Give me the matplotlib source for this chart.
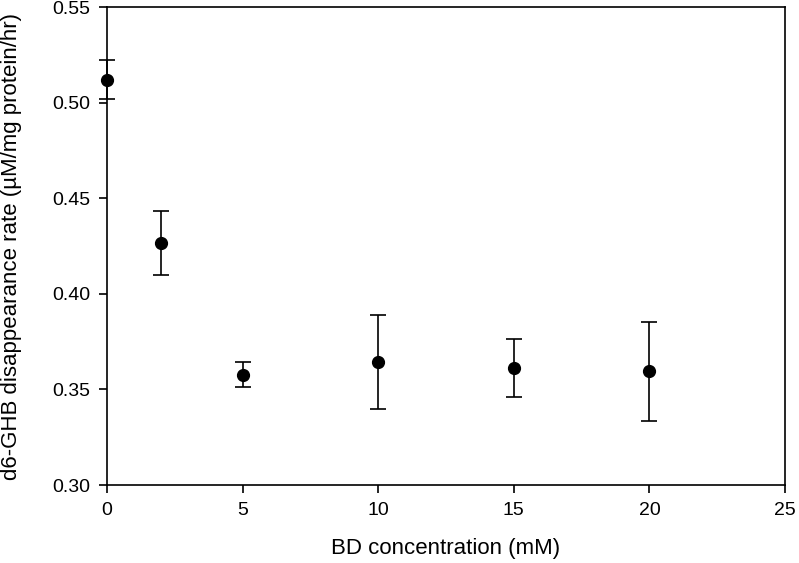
import matplotlib
matplotlib.use("Agg")
import matplotlib.pyplot as plt

# BD concentration (mM) vs d6-GHB disappearance rate
conc = [0, 2, 5, 10, 15, 20]
rate = [0.512, 0.4265, 0.3578, 0.3642, 0.3613, 0.3595]
err = [0.0103, 0.0168, 0.0067, 0.0246, 0.0151, 0.0259]

xticks = [0, 5, 10, 15, 20, 25]
yticks = [0.30, 0.35, 0.40, 0.45, 0.50, 0.55]

plt.rcParams["font.family"] = ["Liberation Sans", "DejaVu Sans"]

fig = plt.figure(figsize=(7.99, 5.63), dpi=100)
ax = fig.add_axes([0.134, 0.1385, 0.8485, 0.849])

ax.errorbar(conc, rate, yerr=err, fmt="o", color="black", ms=8.5,
            elinewidth=1.2, capsize=5.5, capthick=1.2, clip_on=False, zorder=3)

ax.set_xlim(0, 25)
ax.set_ylim(0.30, 0.55)
ax.set_xticks(xticks)
ax.set_yticks(yticks)
ax.set_xticklabels([str(t) for t in xticks])
ax.set_yticklabels(["%.2f" % t for t in yticks])
ax.tick_params(direction="out", length=6, width=1.2, labelsize=14, pad=6)
for s in ax.spines.values():
    s.set_linewidth(1.2)

ax.set_xlabel("BD concentration (mM)", fontsize=16, labelpad=14)
ax.set_ylabel("d6-GHB disappearance rate (\u00b5M/mg protein/hr)", fontsize=16, labelpad=22)

fig.savefig("out.png", dpi=100)
